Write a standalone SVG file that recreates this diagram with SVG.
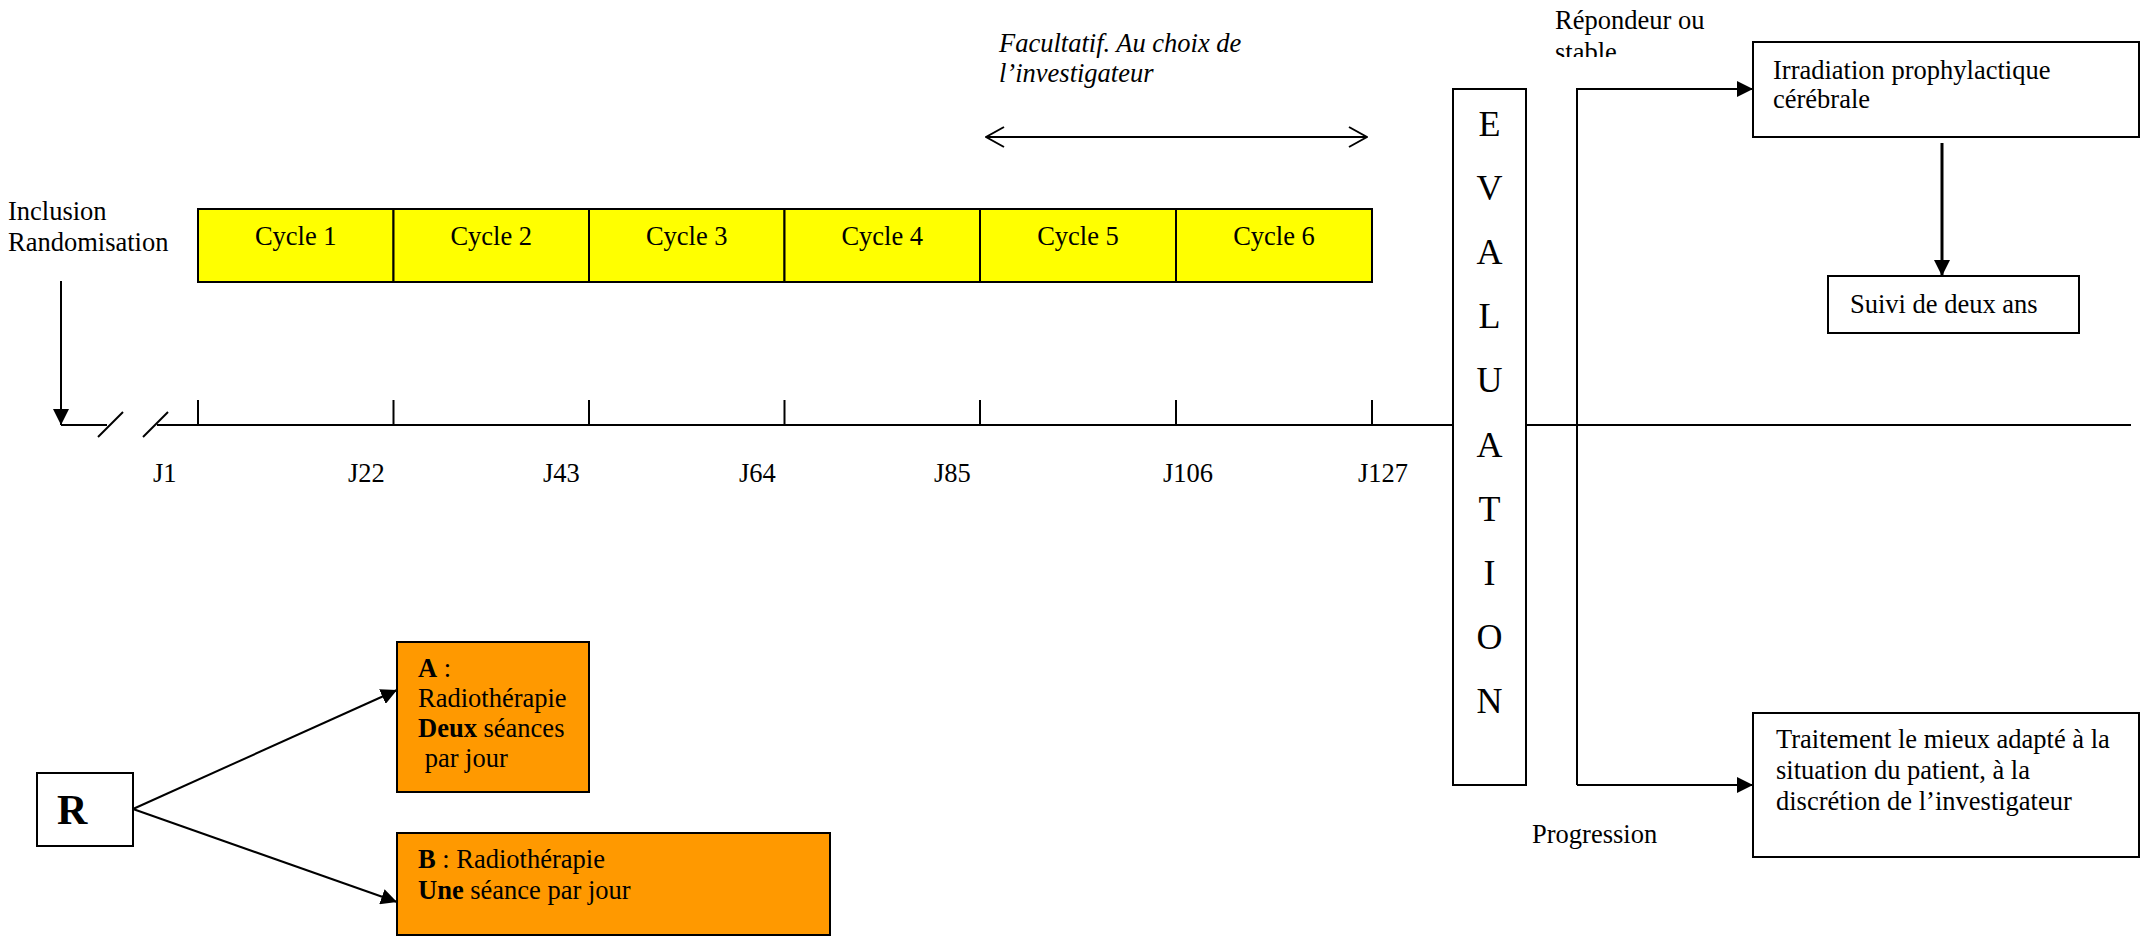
<svg xmlns="http://www.w3.org/2000/svg" width="2142" height="937" viewBox="0 0 2142 937">
<style>
  text { font-family: "Liberation Serif", "Times New Roman", serif; font-size: 26.5px; fill: #000; }
  .it { font-style: italic; }
  .b { font-weight: bold; }
  .mid { text-anchor: middle; }
  .ev { font-size: 36px; text-anchor: middle; }
  .box { fill: #fff; stroke: #000; stroke-width: 2; }
  .cyc { fill: #ffff00; stroke: #000; stroke-width: 2; }
  .org { fill: #ff9900; stroke: #000; stroke-width: 2; }
  .ln { fill: none; stroke: #000; stroke-width: 2; }
  .arr { fill: none; stroke: #000; stroke-width: 2; marker-end: url(#ah); }
</style>
<defs>
  <marker id="ah" viewBox="0 0 16 16" refX="16" refY="8" markerWidth="16" markerHeight="16" markerUnits="userSpaceOnUse" orient="auto">
    <path d="M0,0 L16,8 L0,16 Z" fill="#000"/>
  </marker>
  <marker id="open" viewBox="0 0 20 22" refX="19" refY="11" markerWidth="20" markerHeight="22" markerUnits="userSpaceOnUse" orient="auto-start-reverse">
    <path d="M1,1 L19,11 L1,21" fill="none" stroke="#000" stroke-width="2"/>
  </marker>
  <clipPath id="clipStable"><rect x="1500" y="0" width="300" height="57"/></clipPath>
</defs>

<g id="connectors">
  <!-- timeline -->
  <line class="ln" x1="61" y1="425" x2="107" y2="425"/>
  <line class="ln" x1="98" y1="437" x2="123" y2="412"/>
  <line class="ln" x1="143" y1="437" x2="168" y2="412"/>
  <line class="ln" x1="157" y1="425" x2="2131" y2="425"/>
  <g class="ticks">
    <line class="ln" x1="198" y1="400" x2="198" y2="425"/>
    <line class="ln" x1="393.5" y1="400" x2="393.5" y2="425"/>
    <line class="ln" x1="589" y1="400" x2="589" y2="425"/>
    <line class="ln" x1="784.5" y1="400" x2="784.5" y2="425"/>
    <line class="ln" x1="980" y1="400" x2="980" y2="425"/>
    <line class="ln" x1="1176" y1="400" x2="1176" y2="425"/>
    <line class="ln" x1="1372" y1="400" x2="1372" y2="425"/>
  </g>
  <!-- inclusion arrow -->
  <line class="arr" x1="61" y1="281" x2="61" y2="425"/>
  <!-- optional double arrow -->
  <line class="ln" x1="986" y1="137" x2="1367" y2="137" marker-start="url(#open)" marker-end="url(#open)"/>
  <!-- evaluation outcomes -->
  <polyline class="ln" points="1577,785 1577,89 1737,89"/>
  <line class="arr" x1="1700" y1="89" x2="1753" y2="89"/>
  <line class="arr" x1="1577" y1="785" x2="1753" y2="785"/>
  <line class="arr" x1="1942" y1="143" x2="1942" y2="276" style="stroke-width:3"/>
  <!-- randomisation arrows -->
  <line class="arr" x1="133" y1="809" x2="397" y2="690"/>
  <line class="arr" x1="133" y1="809" x2="397" y2="902"/>
</g>

<g id="inclusion-label">
  <text x="8" y="220">Inclusion</text>
  <text x="8" y="251">Randomisation</text>
</g>

<g id="cycles">
  <g id="cycle1"><rect class="cyc" x="198" y="209" width="195.5" height="73"/><text class="mid" x="295.75" y="245">Cycle 1</text></g>
  <g id="cycle2"><rect class="cyc" x="393.5" y="209" width="195.5" height="73"/><text class="mid" x="491.25" y="245">Cycle 2</text></g>
  <g id="cycle3"><rect class="cyc" x="589" y="209" width="195.5" height="73"/><text class="mid" x="686.75" y="245">Cycle 3</text></g>
  <g id="cycle4"><rect class="cyc" x="784.5" y="209" width="195.5" height="73"/><text class="mid" x="882.25" y="245">Cycle 4</text></g>
  <g id="cycle5"><rect class="cyc" x="980" y="209" width="196" height="73"/><text class="mid" x="1078" y="245">Cycle 5</text></g>
  <g id="cycle6"><rect class="cyc" x="1176" y="209" width="196" height="73"/><text class="mid" x="1274" y="245">Cycle 6</text></g>
</g>

<g id="day-labels">
  <text x="153" y="482">J1</text>
  <text x="348" y="482">J22</text>
  <text x="543" y="482">J43</text>
  <text x="739" y="482">J64</text>
  <text x="934" y="482">J85</text>
  <text x="1163" y="482">J106</text>
  <text x="1358" y="482">J127</text>
</g>

<g id="optional-label">
  <text class="it" x="999" y="52">Facultatif. Au choix de</text>
  <text class="it" x="999" y="82">l’investigateur</text>
</g>

<g id="evaluation">
  <rect class="box" x="1453" y="89" width="73" height="696"/>
  <text class="ev" x="1489.5" y="136">E</text>
  <text class="ev" x="1489.5" y="200">V</text>
  <text class="ev" x="1489.5" y="264">A</text>
  <text class="ev" x="1489.5" y="328">L</text>
  <text class="ev" x="1489.5" y="392">U</text>
  <text class="ev" x="1489.5" y="457">A</text>
  <text class="ev" x="1489.5" y="521">T</text>
  <text class="ev" x="1489.5" y="585">I</text>
  <text class="ev" x="1489.5" y="649">O</text>
  <text class="ev" x="1489.5" y="713">N</text>
</g>

<g id="responder-label">
  <text x="1555" y="29">Répondeur ou</text>
  <text x="1555" y="61" clip-path="url(#clipStable)">stable</text>
</g>

<g id="progression-label">
  <text x="1532" y="843">Progression</text>
</g>

<g id="irradiation">
  <rect class="box" x="1753" y="42" width="386" height="95"/>
  <text x="1773" y="79">Irradiation prophylactique</text>
  <text x="1773" y="108">cérébrale</text>
</g>

<g id="suivi">
  <rect class="box" x="1828" y="276" width="251" height="57"/>
  <text x="1850" y="313">Suivi de deux ans</text>
</g>

<g id="traitement">
  <rect class="box" x="1753" y="713" width="386" height="144"/>
  <text x="1776" y="748">Traitement le mieux adapté à la</text>
  <text x="1776" y="779">situation du patient, à la</text>
  <text x="1776" y="810">discrétion de l’investigateur</text>
</g>

<g id="R">
  <rect class="box" x="37" y="773" width="96" height="73"/>
  <text class="b" x="57" y="824" style="font-size:42px">R</text>
</g>

<g id="armA">
  <rect class="org" x="397" y="642" width="192" height="150"/>
  <text x="418" y="677"><tspan class="b">A</tspan> :</text>
  <text x="418" y="707">Radiothérapie</text>
  <text x="418" y="737"><tspan class="b">Deux</tspan> séances</text>
  <text x="418" y="767" xml:space="preserve"> par jour</text>
</g>

<g id="armB">
  <rect class="org" x="397" y="833" width="433" height="102"/>
  <text x="418" y="868"><tspan class="b">B</tspan> : Radiothérapie</text>
  <text x="418" y="899"><tspan class="b">Une</tspan> séance par jour</text>
</g>
</svg>
